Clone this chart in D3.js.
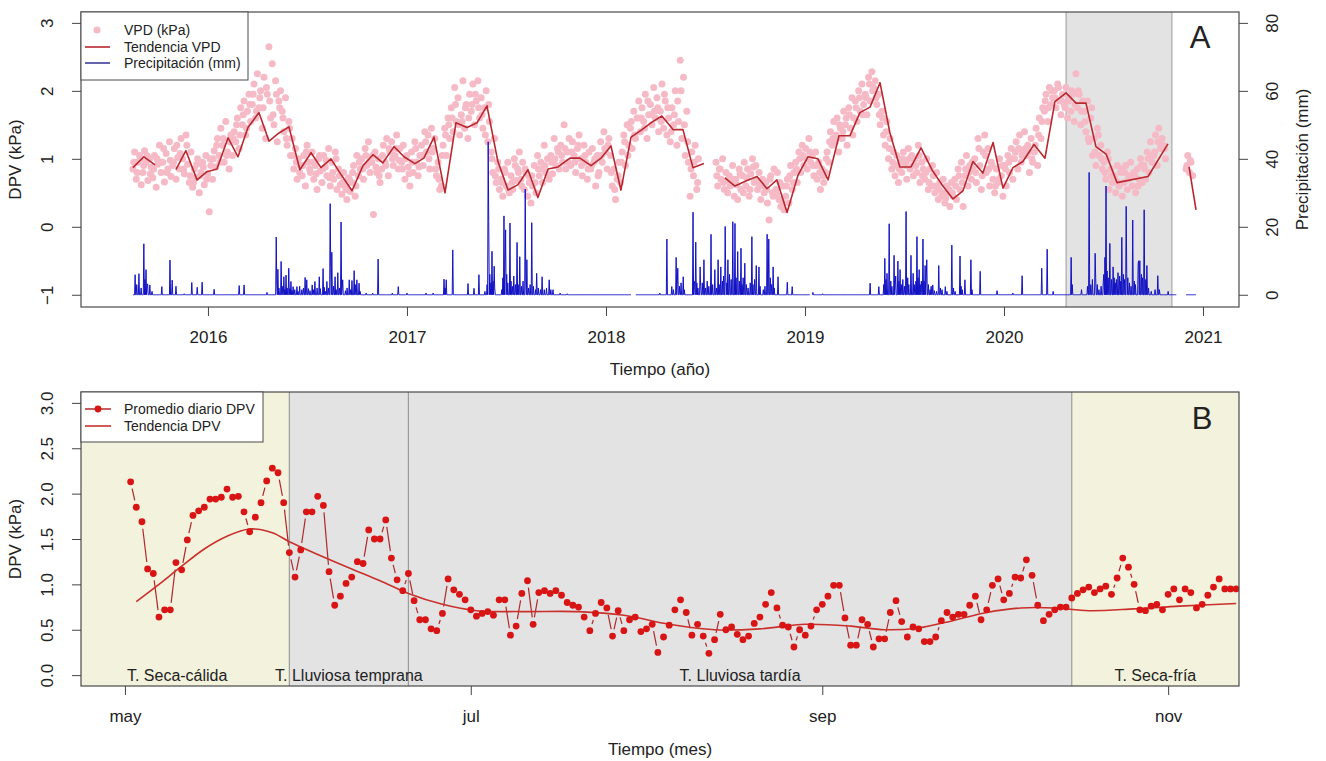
<!DOCTYPE html>
<html>
<head>
<meta charset="utf-8">
<script src="https://cdn.jsdelivr.net/npm/d3@7"></script>
<style>
  body { margin: 0; background: #fff; }
  svg { display: block; }
  text { font-family: "Liberation Sans", Arial, Helvetica, sans-serif; fill: #222; }
</style>
</head>
<body>
<svg id="chart" width="1326" height="761"></svg>
<script>
// ---------- Panel A data (time in decimal years) ----------
const aniosTicks = [2016, 2017, 2018, 2019, 2020, 2021];
const dpvTicksA = [-1, 0, 1, 2, 3];
const lluviaTicks = [0, 20, 40, 60, 80];

// daily VPD cloud, read roughly every ~3 days (1/120 yr), three runs split by data gaps
const vpdPaso = 1 / 120;
const vpdInicio = [2015.623, 2018.553, 2020.915];
const vpdTramoA = [
  0.85,1.10,0.70,0.95,1.05,0.62, 0.80,1.12,0.95,0.68,1.00,0.88, 0.72,1.05,0.58,0.92,1.20,0.80,
  0.95,0.66,1.08,0.85,1.25,0.74, 0.90,1.15,0.70,1.02,0.85,1.30, 1.00,0.78,1.35,0.92,0.65,1.10,
  0.58,0.85,0.72,1.00,0.50,0.80, 0.95,0.62,1.05,0.78,0.22,0.90, 0.70,1.12,0.88,1.30,1.05,1.45,
  1.20,0.95,1.55,1.10,0.85,1.35, 1.05,1.40,1.25,1.60,1.15,1.75, 1.50,1.85,1.35,1.70,1.95,1.55,
  1.80,2.10,1.60,2.25,1.75,2.00, 1.45,2.20,1.30,1.95,2.65,1.60, 2.40,1.50,2.15,1.25,1.85,2.00,
  1.70,1.40,1.90,1.20,1.55,1.05, 1.30,0.85,1.15,0.70,1.00,0.90, 0.75,1.05,0.60,1.20,0.95,0.80,
  1.10,0.70,0.90,0.55,1.00,0.82, 0.65,1.05,0.88,0.75,1.15,0.60, 0.95,0.70,1.10,0.55,0.85,0.62,
  0.48,0.80,0.60,0.40,0.72,0.52, 0.65,0.90,0.45,1.05,0.75,0.85, 1.00,0.70,1.15,0.90,1.25,0.80,
  0.95,0.18,1.10,0.80,1.00,0.65, 0.85,1.20,0.95,1.30,0.75,1.10, 1.25,0.90,1.05,1.35,0.85,1.15,
  0.95,1.20,0.70,1.05,0.88,0.60, 1.10,0.80,1.25,0.95,0.75,1.05, 1.20,0.90,1.40,1.10,1.35,0.85,
  1.45,1.15,1.30,0.75,0.95,0.55, 0.60,1.20,1.45,1.05,1.60,1.30, 1.75,1.40,2.05,1.55,1.90,1.35,
  1.65,2.15,1.45,1.80,1.30,1.95, 1.70,2.10,1.50,1.85,2.15,1.60, 1.90,1.45,1.75,2.00,1.25,1.55,
  1.10,0.80,1.30,0.65,0.95,0.55, 0.70,0.45,0.85,0.60,0.95,0.50, 0.75,0.55,1.00,0.68,0.85,1.10,
  0.70,0.95,0.55,0.80,0.45,0.65, 0.35,0.60,0.90,0.50,1.05,0.75, 0.95,0.65,1.20,0.80,1.00,0.70,
  1.05,0.78,1.30,0.90,1.15,0.85, 1.20,0.95,1.50,0.85,1.10,1.30, 0.90,1.25,1.05,0.80,1.15,1.35,
  1.00,0.75,1.20,0.95,0.70,1.10, 0.85,1.15,0.95,0.60,1.05,0.80, 1.25,0.95,1.40,1.10,0.85,1.30,
  1.05,0.60,0.85,0.40,0.70,0.95, 0.65,1.10,1.35,0.90,1.50,1.20, 1.45,1.15,1.70,1.30,1.60,1.85,
  1.40,1.75,1.55,1.95,1.30,1.65, 1.80,1.50,2.05,1.60,1.90,1.40, 1.70,2.10,1.45,1.85,1.35,1.60,
  1.25,1.75,1.50,2.00,1.20,1.55, 2.45,1.30,2.20,1.05,1.70,0.95, 0.45,1.10,0.75,1.20,0.55,1.00
];
const vpdTramoB = [
  0.95,0.60,0.85,0.70,1.00,0.55, 0.80,0.50,0.75,0.62,0.90,0.45, 0.70,0.40,0.85,0.55,0.75,0.95,
  0.60,0.85,0.45,0.78,1.00,0.65, 0.90,0.55,0.80,0.40,0.70,0.50, 0.65,0.35,0.10,0.75,0.50,0.85,
  0.55,0.80,0.40,0.30,0.60,0.25, 0.45,0.70,0.35,0.90,0.55,0.80, 0.95,0.65,1.10,0.80,1.20,0.90,
  1.15,0.85,1.30,0.95,1.05,0.75, 1.10,0.70,0.95,0.55,0.85,0.65, 0.80,1.10,0.95,1.40,1.20,1.55,
  1.25,1.60,1.10,1.45,1.30,1.70, 1.50,1.20,1.75,1.45,1.90,1.60, 1.85,1.55,2.00,1.70,2.10,1.80,
  1.95,1.65,2.20,1.85,2.28,2.05, 2.15,1.80,1.95,1.50,1.70,1.35, 1.20,1.55,1.00,1.30,0.85,1.10,
  0.75,1.05,0.65,0.95,0.80,1.10, 0.90,0.70,1.15,0.85,1.05,0.75, 1.00,0.80,1.20,0.65,0.95,0.85,
  0.70,1.00,0.55,0.85,0.60,0.75, 0.50,0.80,0.40,0.65,0.45,0.70, 0.35,0.60,0.50,0.30,0.65,0.45,
  0.70,0.40,0.85,0.55,0.95,0.30, 0.75,1.05,0.60,0.90,0.70,0.85, 1.00,0.65,1.30,0.90,0.55,1.10,
  1.35,0.80,1.15,0.60,0.95,0.70, 0.50,0.85,0.65,1.00,0.75,0.45, 0.90,0.60,1.05,0.80,1.15,0.70,
  1.00,1.25,0.85,1.35,0.95,1.10, 1.40,1.05,1.20,0.80,1.30,0.95, 1.10,1.45,0.90,1.60,1.30,1.75,
  1.70,1.95,1.55,2.05,1.80,1.90, 2.00,1.75,2.10,1.85,1.65,1.95, 1.80,2.05,1.60,1.90,1.70,1.95,
  1.55,2.25,1.75,1.95,1.50,1.85, 1.70,1.40,1.85,1.25,1.60,1.05, 1.30,0.90,1.45,1.05,1.20,0.85,
  0.95,0.70,1.10,0.55,0.85,0.65, 0.75,0.50,0.90,0.60,0.80,0.45, 0.65,0.90,0.55,0.75,0.95,0.60,
  0.80,0.50,0.85,0.70,1.00,0.65, 0.90,0.70,1.10,0.80,1.25,0.95, 1.05,1.35,0.90,1.45,1.15,1.30,
  1.20,1.00
];
const vpdTramoC = [0.85, 1.05, 0.80, 0.95, 0.75];

// the other days of the cloud, read every ~6 days (1/60 yr), shifted 1/240 yr
const vpdPaso2 = 1 / 60;
const vpdTramoA2 = [
  0.95,0.80,1.00, 0.90,1.05,0.78, 0.85,1.00,0.95, 1.15,0.80,0.98, 0.95,1.20,1.08, 0.85,1.20,0.75,
  0.65,0.92,0.75, 0.88,0.70,1.00, 1.00,1.20,0.95, 1.30,1.05,1.25, 1.30,1.50,1.35, 1.65,1.45,1.80,
  1.95,1.70,1.90, 1.75,2.05,1.85, 1.65,1.95,1.75, 1.60,1.30,1.45, 1.05,0.95,0.80, 0.90,1.10,0.85,
  0.95,0.78,1.05, 0.85,0.98,0.72, 0.80,1.00,0.75, 0.65,0.55,0.70, 0.80,0.60,0.95, 0.85,1.05,0.95,
  1.05,0.88,0.75, 1.05,0.90,1.15, 1.00,1.15,0.98, 0.85,1.00,0.78, 0.95,1.15,0.88, 1.05,1.25,1.00,
  1.10,0.85,0.70, 1.05,1.35,1.50, 1.60,1.80,1.50, 1.55,1.75,1.60, 1.80,1.95,1.75, 1.65,1.35,1.80,
  1.00,0.75,0.85, 0.65,0.80,0.55, 0.65,0.90,0.80, 0.60,0.85,0.75, 0.75,0.65,0.85, 0.85,0.90,0.75,
  0.95,1.00,1.10, 1.05,1.15,0.95, 1.10,0.95,1.20, 0.90,1.05,0.85, 0.90,1.00,0.75, 1.05,1.15,1.20,
  0.80,0.55,0.75, 0.95,1.25,1.05, 1.55,1.35,1.60, 1.60,1.45,1.85, 1.65,1.70,1.75, 1.55,1.95,1.75,
  1.40,1.65,1.85, 2.00,1.50,1.25, 0.85,0.95,0.65
];
const vpdTramoB2 = [
  0.75,0.85,0.65, 0.68,0.60,0.70, 0.62,0.78,0.50, 0.72,0.55,0.88, 0.68,0.62,0.60, 0.55,0.70,0.45,
  0.48,0.65,0.35, 0.60,0.75,0.65, 0.85,1.00,1.05, 1.00,1.10,0.90, 0.90,0.80,0.75, 1.00,1.25,1.30,
  1.35,1.50,1.40, 1.60,1.65,1.35, 1.75,1.90,1.65, 1.90,2.10,2.00, 1.90,1.65,1.60, 1.40,1.15,0.95,
  0.90,0.85,1.00, 0.95,1.00,0.90, 0.90,1.05,0.75, 0.80,0.65,0.90, 0.60,0.55,0.50, 0.42,0.55,0.50,
  0.60,0.75,0.65, 0.85,0.80,0.95, 0.80,1.15,0.75, 1.05,0.85,0.90, 0.60,0.70,0.90, 0.85,0.95,1.00,
  1.10,1.15,1.05, 1.15,1.10,1.00, 1.20,1.35,1.55, 1.85,1.75,2.00, 1.90,2.05,1.85, 1.75,1.85,2.00,
  1.80,2.00,1.70, 1.55,1.30,1.75, 1.10,1.35,1.00, 0.80,1.00,0.75, 0.70,0.65,0.85, 0.80,0.70,0.75,
  0.75,0.60,0.90, 0.85,1.00,1.05, 1.10,1.25,1.20, 1.15
];
const vpdTramoC2 = [0.90, 0.98];

// trend line vertices (null = break)
const tendAnio = [2015.623,2015.678,2015.734,null,2015.839,2015.889,2015.945,2015.995,2016.045,2016.101,
  2016.151,2016.201,2016.256,2016.307,2016.357,2016.407,2016.462,2016.518,2016.568,2016.618,2016.673,
  2016.724,2016.779,2016.829,2016.879,2016.935,2016.985,2017.040,2017.085,2017.136,2017.191,2017.246,
  2017.302,2017.352,2017.402,2017.457,2017.508,2017.558,2017.608,2017.658,2017.709,2017.759,2017.819,
  2017.869,2017.925,2017.975,2018.025,2018.075,2018.126,2018.181,2018.231,2018.281,2018.337,2018.387,
  2018.437,2018.492,null,2018.598,2018.648,2018.709,2018.759,2018.809,2018.859,2018.910,2018.965,
  2019.015,2019.065,2019.116,2019.171,2019.226,2019.276,2019.327,2019.377,2019.427,2019.477,2019.533,
  2019.583,2019.638,2019.688,2019.744,2019.794,2019.844,2019.894,2019.945,2019.995,2020.045,2020.095,
  2020.151,2020.206,2020.256,2020.312,2020.362,2020.412,2020.462,2020.513,2020.568,2020.724,2020.824,
  null,2020.930,2020.965];
const tendVPD = [0.87,1.03,0.91,null,0.84,1.12,0.69,0.81,0.85,1.31,
  1.03,1.46,1.68,1.26,1.38,1.47,0.84,1.09,0.87,1.00,0.75,
  0.53,0.90,1.06,0.94,1.18,1.03,0.93,1.01,1.32,0.50,1.53,
  1.46,1.53,1.78,0.96,0.54,0.62,0.84,0.43,0.85,0.88,1.01,
  1.01,0.90,1.01,1.19,0.54,1.32,1.43,1.54,1.63,1.43,1.43,
  0.87,0.93,null,0.72,0.60,0.68,0.74,0.56,0.69,0.21,0.76,
  1.03,1.00,0.69,1.34,1.34,1.68,1.76,2.12,1.38,0.88,0.88,
  1.16,0.84,0.62,0.41,0.53,0.96,0.79,1.24,0.57,0.87,0.96,
  1.21,1.01,1.84,1.97,1.82,1.82,1.18,1.07,0.65,0.74,1.22,
  null,0.88,0.25];

// daily rainfall: days with rain [decimal year, mm]; all other recorded days are 0
const lluviaRango = [2015.623, 2020.868];
const lluviaRangoFinal = [2020.915, 2020.965];
const lluviaHuecos = [[2018.128, 2018.150], [2019.025, 2019.035]];
const lluviaEventos = [
  [2015.633,5.9],[2015.643,3.0],[2015.653,6.2],[2015.663,2.0],[2015.678,15.0],[2015.683,4.5],[2015.688,7.4],
  [2015.693,2.5],[2015.698,3.2],[2015.709,2.9],[2015.72,1.0],[2015.769,2.4],[2015.809,10.2],[2015.819,4.3],
  [2015.839,2.5],[2015.879,0.3],[2015.920,3.6],[2015.945,2.2],[2015.970,3.7],
  [2016.030,1.6],[2016.156,2.7],[2016.181,2.9],[2016.296,0.7],
  [2016.342,17.0],[2016.347,3.0],[2016.352,7.5],[2016.357,2.0],[2016.367,9.8],[2016.372,2.5],[2016.382,5.3],
  [2016.387,1.5],[2016.392,5.8],[2016.397,2.0],[2016.407,7.8],[2016.412,1.8],[2016.417,3.9],[2016.422,1.2],
  [2016.427,2.4],[2016.437,1.5],[2016.447,2.4],[2016.452,1.0],[2016.462,2.5],[2016.472,1.5],[2016.480,2.0],
  [2016.487,5.1],[2016.497,4.4],[2016.505,1.8],[2016.513,1.2],[2016.523,2.9],[2016.530,1.5],[2016.538,3.9],
  [2016.548,2.0],[2016.558,5.3],[2016.565,1.8],[2016.578,7.7],[2016.585,2.2],[2016.590,1.0],[2016.598,3.9],
  [2016.605,2.0],[2016.613,26.8],[2016.618,8.0],[2016.623,12.5],[2016.630,2.5],[2016.638,5.3],[2016.645,1.5],
  [2016.653,6.5],[2016.660,2.0],[2016.668,21.4],[2016.673,1.8],[2016.678,4.4],[2016.690,1.2],[2016.700,2.0],
  [2016.709,4.4],[2016.716,1.5],[2016.724,4.2],[2016.734,7.1],[2016.740,3.0],[2016.749,4.4],[2016.759,3.4],
  [2016.765,1.0],[2016.794,0.5],[2016.829,0.5],[2016.854,10.5],[2016.925,0.5],[2016.955,2.4],
  [2017.000,0.5],[2017.095,0.5],[2017.131,0.5],[2017.186,4.6],[2017.191,2.0],[2017.196,4.4],[2017.231,13.2],
  [2017.307,3.3],[2017.337,1.9],[2017.362,5.9],[2017.392,1.0],[2017.402,3.0],[2017.407,45.0],[2017.412,21.6],
  [2017.417,6.0],[2017.422,3.5],[2017.427,12.8],[2017.432,4.0],[2017.437,8.4],[2017.442,2.0],[2017.477,1.5],
  [2017.482,5.0],[2017.487,23.2],[2017.492,9.0],[2017.497,19.1],[2017.502,6.0],[2017.507,3.5],[2017.518,21.1],
  [2017.523,4.0],[2017.530,2.5],[2017.538,5.5],[2017.545,3.0],[2017.553,15.4],[2017.558,3.0],[2017.568,11.2],
  [2017.575,2.5],[2017.583,4.0],[2017.593,31.1],[2017.598,3.5],[2017.603,10.3],[2017.610,2.0],[2017.618,3.0],
  [2017.628,21.2],[2017.635,2.5],[2017.645,1.5],[2017.653,6.3],[2017.660,2.0],[2017.670,1.5],[2017.678,5.3],
  [2017.690,1.5],[2017.700,2.0],[2017.714,4.4],[2017.722,1.5],[2017.734,1.5],[2017.769,0.5],[2017.804,0.3],
  [2018.271,0.5],[2018.307,16.4],[2018.332,2.4],[2018.340,1.5],[2018.352,11.0],[2018.357,3.0],[2018.362,7.8],
  [2018.370,2.5],[2018.378,3.5],[2018.387,5.3],[2018.395,1.5],[2018.437,24.3],[2018.442,4.0],[2018.447,3.0],
  [2018.452,15.5],[2018.457,3.5],[2018.462,2.0],[2018.472,8.2],[2018.477,2.5],[2018.485,3.5],[2018.492,10.3],
  [2018.500,2.0],[2018.510,4.0],[2018.518,2.5],[2018.528,17.8],[2018.535,3.0],[2018.548,7.4],[2018.555,2.0],
  [2018.563,10.3],[2018.570,3.0],[2018.578,8.2],[2018.585,4.0],[2018.590,5.5],[2018.598,20.1],[2018.603,5.0],
  [2018.608,3.5],[2018.613,10.3],[2018.620,6.0],[2018.630,4.5],[2018.638,21.5],[2018.648,21.0],[2018.655,5.0],
  [2018.663,12.7],[2018.670,4.0],[2018.678,13.7],[2018.685,3.0],[2018.690,5.0],[2018.698,9.3],[2018.705,3.0],
  [2018.715,2.0],[2018.725,3.5],[2018.734,17.1],[2018.740,3.0],[2018.748,4.5],[2018.754,8.6],[2018.769,8.2],
  [2018.775,2.5],[2018.790,1.5],[2018.800,2.5],[2018.809,17.8],[2018.819,16.4],[2018.825,5.0],[2018.832,3.0],
  [2018.839,8.2],[2018.845,2.0],[2018.864,5.3],[2018.910,3.7],[2018.935,2.4],
  [2019.040,0.7],[2019.090,0.3],[2019.327,3.4],[2019.372,2.4],[2019.397,3.0],[2019.402,10.7],[2019.407,4.5],
  [2019.412,6.3],[2019.422,20.9],[2019.430,4.0],[2019.437,2.5],[2019.447,11.6],[2019.452,3.0],[2019.457,5.5],
  [2019.467,9.9],[2019.472,4.0],[2019.477,7.4],[2019.485,3.0],[2019.492,4.5],[2019.500,2.5],[2019.508,24.5],
  [2019.515,5.0],[2019.522,3.0],[2019.533,11.6],[2019.543,6.3],[2019.550,3.0],[2019.556,4.0],[2019.563,17.1],
  [2019.568,5.0],[2019.573,7.4],[2019.580,3.0],[2019.586,4.0],[2019.593,16.4],[2019.598,4.0],[2019.603,8.6],
  [2019.608,4.5],[2019.613,10.3],[2019.620,3.0],[2019.628,1.5],[2019.635,2.5],[2019.643,2.9],[2019.650,1.2],
  [2019.660,1.0],[2019.673,8.6],[2019.680,2.0],[2019.690,1.5],[2019.704,2.4],[2019.712,1.0],[2019.739,14.6],
  [2019.745,2.0],[2019.755,1.0],[2019.779,11.4],[2019.785,2.5],[2019.790,1.5],[2019.804,4.4],[2019.834,10.3],
  [2019.840,1.5],[2019.879,6.9],[2019.965,1.2],
  [2020.045,0.5],[2020.090,5.6],[2020.191,7.8],[2020.216,13.4],[2020.246,1.0],[2020.337,11.0],[2020.342,3.0],
  [2020.390,1.5],[2020.420,2.5],[2020.427,36.0],[2020.435,3.0],[2020.445,4.5],[2020.457,12.2],[2020.462,5.0],
  [2020.470,3.0],[2020.478,1.5],[2020.488,2.5],[2020.498,4.0],[2020.503,6.0],[2020.508,11.0],[2020.513,32.0],
  [2020.518,7.0],[2020.523,5.0],[2020.533,15.1],[2020.540,4.5],[2020.548,8.2],[2020.555,5.0],[2020.560,3.5],
  [2020.566,4.5],[2020.573,6.5],[2020.580,5.5],[2020.588,4.0],[2020.593,16.9],[2020.600,6.0],[2020.606,4.5],
  [2020.613,26.0],[2020.618,6.3],[2020.623,5.0],[2020.630,3.5],[2020.640,2.5],[2020.648,22.0],[2020.655,4.0],
  [2020.662,3.0],[2020.673,9.3],[2020.678,10.0],[2020.683,10.0],[2020.690,6.0],[2020.697,5.0],[2020.704,25.0],
  [2020.712,4.5],[2020.719,8.6],[2020.726,2.0],[2020.740,1.0],[2020.758,1.5],[2020.774,5.6],[2020.780,1.5],
  [2020.824,1.0]
];

// study window shaded in panel A
const periodoEstudio = [2020.312, 2020.844];

// ---------- Panel B data ----------
const mesesTicks = ["2020-05-01", "2020-07-01", "2020-09-01", "2020-11-01"];
const mesesEtiquetas = ["may", "jul", "sep", "nov"];
const dpvTicksB = [0, 0.5, 1, 1.5, 2, 2.5, 3];

const dpvPrimerDia = "2020-05-02";
const dpvDiario = [
  2.13,1.85,1.69,1.17,1.12,0.64,0.72,0.72,1.24,1.16,1.49,1.76,1.81,1.85,1.94,1.94,1.96,2.05,1.96,1.97,
  1.80,1.58,1.74,1.90,2.14,2.28,2.23,1.90,1.35,1.08,1.38,1.80,1.80,1.97,1.87,1.14,0.77,0.87,1.01,1.08,
  1.25,1.23,1.60,1.50,1.50,1.71,1.29,1.05,0.93,1.12,0.82,0.61,0.61,0.51,0.49,0.68,1.06,
  0.94,0.89,0.83,0.72,0.65,0.68,0.70,0.66,0.83,0.83,0.44,0.54,0.90,1.04,0.56,0.91,0.93,0.90,0.93,0.88,
  0.80,0.77,0.75,0.64,0.49,0.68,0.80,0.74,0.43,0.71,0.49,0.61,0.64,0.48,0.51,0.56,0.25,0.42,0.55,0.72,
  0.83,0.69,0.44,0.56,0.43,0.24,0.39,0.67,0.50,0.53,0.45,0.39,0.43,0.57,0.64,0.78,0.91,0.74,0.55,0.53,
  0.31,0.50,0.44,0.54,0.72,0.78,0.87,0.99,0.99,0.63,0.33,
  0.33,0.61,0.56,0.31,0.40,0.40,0.69,0.82,0.59,0.42,0.53,0.51,0.37,0.37,0.42,0.60,0.69,0.64,0.67,0.67,
  0.77,0.87,0.61,0.72,0.99,1.06,0.83,0.90,1.08,1.07,1.27,1.10,0.77,0.60,0.67,0.72,0.75,0.75,0.85,0.90,
  0.94,0.97,0.91,0.95,0.98,0.89,1.07,1.29,1.19,1.00,0.72,0.71,0.76,0.78,0.72,0.89,0.95,0.83,0.95,0.91,
  0.74,0.78,0.88,0.97,1.06,0.95,0.95,0.95
];
// smoothed trend: days after 1 May 2020 and value
const tendDia = [2,6,10,14,18,22,26,29,34,40,45,50,56,62,70,80,88,96,104,112,120,128,134,140,146,152,158,164,170,178,186,196];
const tendDPV = [0.81,1.00,1.20,1.39,1.53,1.61,1.57,1.47,1.33,1.17,1.04,0.90,0.78,0.71,0.70,0.70,0.66,0.56,0.50,0.51,0.56,0.54,0.50,0.52,0.60,0.69,0.74,0.74,0.71,0.73,0.76,0.79];

const periodoNombre = ["T. Seca-cálida", "T. Lluviosa temprana", "T. Lluviosa tardía", "T. Seca-fría"];
const periodoInicio = ["2020-04-01", "2020-05-30", "2020-06-20", "2020-10-15"];
const periodoFin = ["2020-05-30", "2020-06-20", "2020-10-15", "2020-12-01"];
const periodoTipo = ["seca", "lluviosa", "lluviosa", "seca"];

// ---------- drawing ----------
const svg = d3.select('#chart');
const parse = d3.timeParse('%Y-%m-%d');
const colores = { seca: '#f3f2dc', lluviosa: '#e3e3e3', rosa: '#f6bac7', tendA: '#b8282e',
  lluvia: '#1212c4', puntos: '#d81414', tendB: '#c9302c', marco: '#4a4a4a', divisor: '#9c9c9c' };

function panelFrame(m, id) {
  svg.append('clipPath').attr('id', id).append('rect')
    .attr('x', m.left).attr('y', m.top).attr('width', m.right - m.left).attr('height', m.bottom - m.top);
  return svg.append('g').attr('clip-path', `url(#${id})`);
}
function box(m) {
  svg.append('rect').attr('x', m.left).attr('y', m.top)
    .attr('width', m.right - m.left).attr('height', m.bottom - m.top)
    .attr('fill', 'none').attr('stroke', colores.marco).attr('stroke-width', 1.2);
}
function styleAxis(g, size) {
  g.select('.domain').remove();
  g.selectAll('line').attr('stroke', '#444');
  g.selectAll('text').attr('font-size', size).attr('fill', '#222')
    .attr('font-family', '"Liberation Sans", Arial, sans-serif');
}
function rotatedLabels(g, dx) {
  g.selectAll('text').attr('x', null).attr('dy', null)
    .attr('text-anchor', 'middle').attr('transform', `translate(${dx},0) rotate(-90)`);
}

// ===== Panel A =====
const A = { left: 81, right: 1239, top: 12, bottom: 307 };
const xA = d3.scaleLinear().domain([2015.362, 2021.181]).range([A.left, A.right]);
const yA = d3.scaleLinear().domain([-1.18, 3.16]).range([A.bottom, A.top]);
const yLluvia = d3.scaleLinear().domain([-3.6, 83.2]).range([A.bottom, A.top]);
const gA = panelFrame(A, 'clipA');

gA.append('rect')
  .attr('x', xA(periodoEstudio[0])).attr('y', A.top)
  .attr('width', xA(periodoEstudio[1]) - xA(periodoEstudio[0])).attr('height', A.bottom - A.top)
  .attr('fill', colores.lluviosa);
gA.selectAll('line.borde').data(periodoEstudio).enter().append('line')
  .attr('x1', d => xA(d)).attr('x2', d => xA(d)).attr('y1', A.top).attr('y2', A.bottom)
  .attr('stroke', colores.divisor).attr('stroke-width', 1);

const vpdPuntos = [
  ...[vpdTramoA, vpdTramoB, vpdTramoC].flatMap((vals, k) =>
    vals.map((v, i) => ({ t: vpdInicio[k] + i * vpdPaso, v }))),
  ...[vpdTramoA2, vpdTramoB2, vpdTramoC2].flatMap((vals, k) =>
    vals.map((v, i) => ({ t: vpdInicio[k] + vpdPaso / 2 + i * vpdPaso2, v })))
];
gA.append('g').selectAll('circle').data(vpdPuntos).enter().append('circle')
  .attr('cx', d => xA(d.t)).attr('cy', d => yA(d.v)).attr('r', 3.5)
  .attr('fill', colores.rosa);

// daily rainfall series
const dia = 1 / 365.25;
const lluviaDiaria = [];
function agregarDias(a, b) {
  for (let t = a; t <= b + 1e-9; t += dia) {
    const enHueco = lluviaHuecos.some(h => t >= h[0] && t <= h[1]);
    if (enHueco) { lluviaDiaria.push({ t, mm: null }); continue; }
    const ev = lluviaEventos.filter(e => Math.abs(e[0] - t) < dia / 2);
    lluviaDiaria.push({ t, mm: ev.length ? d3.max(ev, e => e[1]) : 0 });
  }
}
agregarDias(lluviaRango[0], lluviaRango[1]);
lluviaDiaria.push({ t: lluviaRango[1], mm: null });
agregarDias(lluviaRangoFinal[0], lluviaRangoFinal[1]);

gA.append('path').datum(lluviaDiaria)
  .attr('fill', 'none').attr('stroke', colores.lluvia).attr('stroke-width', 1)
  .attr('d', d3.line().defined(d => d.mm !== null).x(d => xA(d.t)).y(d => yLluvia(d.mm)));

const tendA = tendAnio.map((t, i) => ({ t, v: tendVPD[i] }));
gA.append('path').datum(tendA)
  .attr('fill', 'none').attr('stroke', colores.tendA).attr('stroke-width', 1.6)
  .attr('stroke-linejoin', 'round')
  .attr('d', d3.line().defined(d => d.t !== null && d.v !== null).x(d => xA(d.t)).y(d => yA(d.v)));

box(A);

const axXA = svg.append('g').attr('transform', `translate(0,${A.bottom})`)
  .call(d3.axisBottom(xA).tickValues(aniosTicks).tickFormat(d3.format('d')).tickSize(9).tickPadding(15));
styleAxis(axXA, 17);
const axYA = svg.append('g').attr('transform', `translate(${A.left},0)`)
  .call(d3.axisLeft(yA).tickValues(dpvTicksA).tickFormat(d3.format('d')).tickSize(9));
styleAxis(axYA, 17);
rotatedLabels(axYA, -28);
const axRA = svg.append('g').attr('transform', `translate(${A.right},0)`)
  .call(d3.axisRight(yLluvia).tickValues(lluviaTicks).tickSize(9));
styleAxis(axRA, 17);
rotatedLabels(axRA, 39);

svg.append('text').attr('transform', `translate(21,${(A.top + A.bottom) / 2}) rotate(-90)`)
  .attr('text-anchor', 'middle').attr('font-size', 17).text('DPV (kPa)');
svg.append('text').attr('transform', `translate(1308,${(A.top + A.bottom) / 2}) rotate(-90)`)
  .attr('text-anchor', 'middle').attr('font-size', 17).text('Precipitación (mm)');
svg.append('text').attr('x', (A.left + A.right) / 2).attr('y', 375)
  .attr('text-anchor', 'middle').attr('font-size', 17).text('Tiempo (año)');
svg.append('text').attr('x', 1200).attr('y', 48).attr('text-anchor', 'middle')
  .attr('font-size', 31).attr('fill', '#111').text('A');

// legend A
const legA = svg.append('g');
legA.append('rect').attr('x', A.left).attr('y', A.top).attr('width', 167).attr('height', 68)
  .attr('fill', '#fff').attr('stroke', colores.marco).attr('stroke-width', 1);
legA.append('circle').attr('cx', 97).attr('cy', 30).attr('r', 3.5).attr('fill', colores.rosa);
legA.append('line').attr('x1', 85).attr('x2', 110).attr('y1', 47).attr('y2', 47)
  .attr('stroke', colores.tendA).attr('stroke-width', 1.6);
legA.append('line').attr('x1', 85).attr('x2', 110).attr('y1', 63).attr('y2', 63)
  .attr('stroke', '#22228c').attr('stroke-width', 1.4);
legA.selectAll('text').data(['VPD (kPa)', 'Tendencia VPD', 'Precipitación (mm)']).enter().append('text')
  .attr('x', 124).attr('y', (d, i) => [35, 52, 68][i]).attr('font-size', 14).text(d => d);

// ===== Panel B =====
const B = { left: 81, right: 1239, top: 392, bottom: 686 };
const xB = d3.scaleTime().domain([new Date(2020, 3, 23, 6), new Date(2020, 10, 13, 12)]).range([B.left, B.right]);
const yB = d3.scaleLinear().domain([-0.12, 3.12]).range([B.bottom, B.top]);
const gB = panelFrame(B, 'clipB');

const periodos = periodoNombre.map((n, i) => ({
  nombre: n, ini: parse(periodoInicio[i]), fin: parse(periodoFin[i]), tipo: periodoTipo[i] }));
gB.selectAll('rect.periodo').data(periodos).enter().append('rect')
  .attr('x', d => xB(d.ini)).attr('y', B.top)
  .attr('width', d => xB(d.fin) - xB(d.ini)).attr('height', B.bottom - B.top)
  .attr('fill', d => colores[d.tipo]);
gB.selectAll('line.div').data(periodos.slice(1)).enter().append('line')
  .attr('x1', d => xB(d.ini)).attr('x2', d => xB(d.ini)).attr('y1', B.top).attr('y2', B.bottom)
  .attr('stroke', colores.divisor).attr('stroke-width', 1.2);

const dom = xB.domain();
gB.selectAll('text.per').data(periodos).enter().append('text')
  .attr('x', d => xB(new Date((Math.max(+d.ini, +dom[0]) + Math.min(+d.fin, +dom[1])) / 2)) - (d.tipo === 'seca' && +d.ini < +dom[0] ? 8 : 0))
  .attr('y', 681).attr('text-anchor', 'middle').attr('font-size', 16).attr('fill', '#222')
  .text(d => d.nombre);

const dpvPuntos = dpvDiario.map((v, i) => ({ d: d3.timeDay.offset(parse(dpvPrimerDia), i), v }));
// type "b": line pieces with a gap around each point
const gap = 7;
const segs = [];
for (let i = 1; i < dpvPuntos.length; i++) {
  const x0 = xB(dpvPuntos[i - 1].d), y0 = yB(dpvPuntos[i - 1].v);
  const x1 = xB(dpvPuntos[i].d), y1 = yB(dpvPuntos[i].v);
  const L = Math.hypot(x1 - x0, y1 - y0);
  if (L > 2 * gap + 3) {
    const ux = (x1 - x0) / L, uy = (y1 - y0) / L;
    segs.push([x0 + ux * gap, y0 + uy * gap, x1 - ux * gap, y1 - uy * gap]);
  }
}
gB.append('g').selectAll('line').data(segs).enter().append('line')
  .attr('x1', d => d[0]).attr('y1', d => d[1]).attr('x2', d => d[2]).attr('y2', d => d[3])
  .attr('stroke', '#b0282a').attr('stroke-width', 1.2);

const tendB = tendDia.map((k, i) => ({ d: d3.timeDay.offset(parse('2020-05-01'), k), v: tendDPV[i] }));
gB.append('path').datum(tendB)
  .attr('fill', 'none').attr('stroke', colores.tendB).attr('stroke-width', 1.6)
  .attr('d', d3.line().curve(d3.curveCatmullRom).x(d => xB(d.d)).y(d => yB(d.v)));

gB.append('g').selectAll('circle').data(dpvPuntos).enter().append('circle')
  .attr('cx', d => xB(d.d)).attr('cy', d => yB(d.v)).attr('r', 3.4)
  .attr('fill', colores.puntos);

box(B);

const axXB = svg.append('g').attr('transform', `translate(0,${B.bottom})`)
  .call(d3.axisBottom(xB).tickValues(mesesTicks.map(parse))
    .tickFormat((d, i) => mesesEtiquetas[i]).tickSize(9).tickPadding(15));
styleAxis(axXB, 17);
const axYB = svg.append('g').attr('transform', `translate(${B.left},0)`)
  .call(d3.axisLeft(yB).tickValues(dpvTicksB).tickFormat(d3.format('.1f')).tickSize(9));
styleAxis(axYB, 17);
rotatedLabels(axYB, -28);

svg.append('text').attr('transform', `translate(21,${(B.top + B.bottom) / 2}) rotate(-90)`)
  .attr('text-anchor', 'middle').attr('font-size', 17).text('DPV (kPa)');
svg.append('text').attr('x', (B.left + B.right) / 2).attr('y', 755)
  .attr('text-anchor', 'middle').attr('font-size', 17).text('Tiempo (mes)');
svg.append('text').attr('x', 1202).attr('y', 429).attr('text-anchor', 'middle')
  .attr('font-size', 31).attr('fill', '#111').text('B');

// legend B
const legB = svg.append('g');
legB.append('rect').attr('x', B.left).attr('y', B.top).attr('width', 182).attr('height', 50)
  .attr('fill', '#fff').attr('stroke', colores.marco).attr('stroke-width', 1);
legB.append('line').attr('x1', 85).attr('x2', 111).attr('y1', 409).attr('y2', 409)
  .attr('stroke', '#b0282a').attr('stroke-width', 1.5);
legB.append('circle').attr('cx', 98).attr('cy', 409).attr('r', 3.4).attr('fill', colores.puntos);
legB.append('line').attr('x1', 85).attr('x2', 111).attr('y1', 426).attr('y2', 426)
  .attr('stroke', colores.tendB).attr('stroke-width', 1.6);
legB.selectAll('text').data(['Promedio diario DPV', 'Tendencia DPV']).enter().append('text')
  .attr('x', 124).attr('y', (d, i) => [414, 431][i]).attr('font-size', 14).text(d => d);
</script>
</body>
</html>
